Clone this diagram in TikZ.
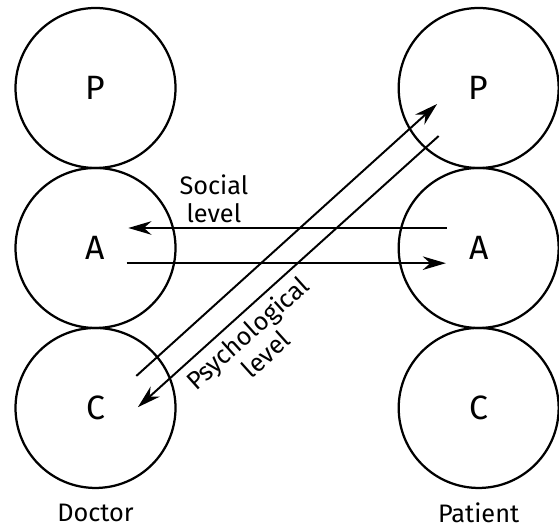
\documentclass[tikz,border=0pt]{standalone}
\usepackage{fontspec}
\setmainfont{Fira Sans}
\usetikzlibrary{arrows.meta,calc}
\tikzset{
	state/.style={circle,draw,line width=0.8pt,minimum size=2cm,inner sep=0pt,font=\fontsize{12}{14}\selectfont},
	lbl/.style={align=center,font=\fontsize{9}{10}\selectfont},
	arr/.style={line width=0.7pt,-{Stealth[length=2.9mm,width=1.7mm]}}
}
\begin{document}
\begin{tikzpicture}
	\useasboundingbox (-1.194,-3.475) rectangle (5.794,3.1);
	\foreach \s/\y in {P/2,A/0,C/-2}{
		\node[state] (d\s) at (0,\y) {\s};
		\node[state] (p\s) at (4.79,\y) {\s};
	}
	\node[lbl] (doc) at (0,-3.31) {Doctor};
	\node[lbl] (pat) at (4.79,-3.31) {Patient};
	% social level
	\draw[arr] ($(pA)+(-0.4,0.25)$) -- ($(dA)+(0.41,0.25)$);
	\draw[arr] ($(dA)+(0.39,-0.19)$) -- ($(pA)+(-0.41,-0.19)$);
	\node[lbl] (soc) at (1.48,0.62) {Social\\level};
	% psychological level
	\draw[arr] ($(dC)+(0.51,0.4)$) -- ($(pP)+(-0.52,-0.2)$);
	\draw[arr] ($(pP)+(-0.50,-0.6)$) -- ($(dC)+(0.53,0.01)$);
	\node[lbl,rotate=42] (psy) at (2.01,-1.19) {Psychological\\level};
\end{tikzpicture}
\end{document}
